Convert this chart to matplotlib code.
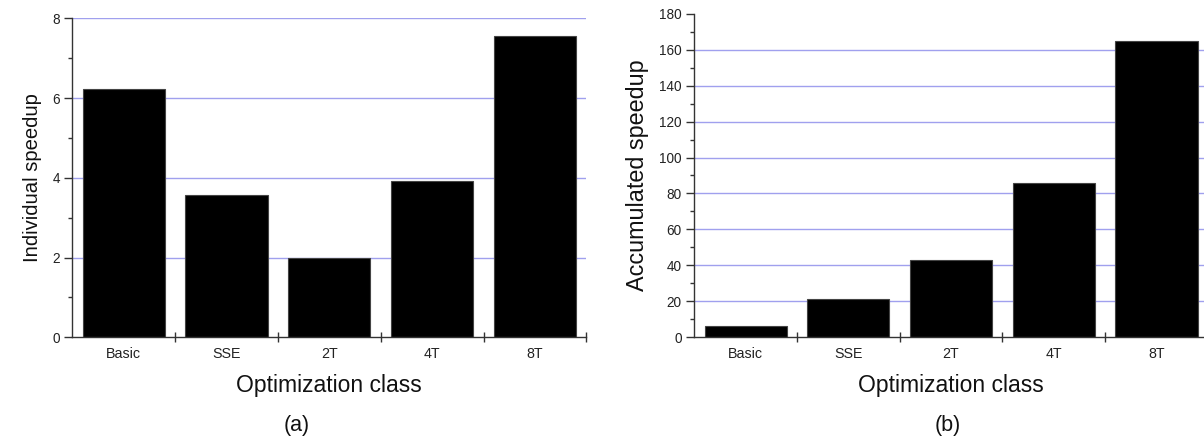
import matplotlib
matplotlib.use("Agg")
import matplotlib.pyplot as plt
import numpy as np
from matplotlib.ticker import FixedLocator, MultipleLocator

plt.rcParams["font.family"] = ["Liberation Sans", "DejaVu Sans"]

CATEGORIES = ["Basic", "SSE", "2T", "4T", "8T"]
INDIVIDUAL = [6.22, 3.56, 1.98, 3.93, 7.55]
ACCUMULATED = [6.2, 21.5, 43.0, 85.8, 164.6]

GRID_COLOR = "#a0a0ee"
AXIS_COLOR = "#333333"


def style_axes(ax, ymax, ymajor, yminor, ylabel, ylabel_size, grid_vals):
    x = np.arange(len(CATEGORIES))
    ax.set_xlim(-0.5, len(CATEGORIES) - 0.5)
    ax.set_ylim(0, ymax)
    for g in grid_vals:
        ax.axhline(g, color=GRID_COLOR, linewidth=1.0, zorder=0)

    ax.spines[["top", "right"]].set_visible(False)
    for s in ("left", "bottom"):
        ax.spines[s].set_color(AXIS_COLOR)
        ax.spines[s].set_linewidth(1.0)

    # category labels at bar centres, tick marks at bin boundaries
    ax.set_xticks(x)
    ax.set_xticklabels(CATEGORIES, fontsize=10.3, color="#222222")
    ax.tick_params(axis="x", which="major", length=0, pad=7)
    ax.xaxis.set_minor_locator(FixedLocator(np.arange(0.5, len(CATEGORIES), 1.0)))
    ax.tick_params(axis="x", which="minor", direction="inout", length=7,
                   width=1.0, color=AXIS_COLOR)

    ax.yaxis.set_major_locator(MultipleLocator(ymajor))
    ax.yaxis.set_minor_locator(MultipleLocator(yminor))
    ax.tick_params(axis="y", which="major", direction="out", length=6,
                   width=1.0, color=AXIS_COLOR, labelsize=9.8,
                   labelcolor="#222222", pad=3)
    ax.tick_params(axis="y", which="minor", direction="out", length=3,
                   width=1.0, color=AXIS_COLOR)

    ax.set_xlabel("Optimization class", fontsize=16.5, color="#111111",
                  labelpad=9)
    ax.set_ylabel(ylabel, fontsize=ylabel_size, color="#111111", labelpad=7)


fig = plt.figure(figsize=(12.04, 4.42), dpi=100)

ax1 = fig.add_axes([72.3 / 1204, 104.7 / 442, 514 / 1204, 319 / 442])
ax1.bar(np.arange(len(CATEGORIES)), INDIVIDUAL, width=0.8, color="black",
        edgecolor="#444444", linewidth=0.8, zorder=2)
style_axes(ax1, 8, 2, 1, "Individual speedup", 14.6, [2, 4, 6, 8])

ax2 = fig.add_axes([694.3 / 1204, 104.7 / 442, 513.5 / 1204, 323.6 / 442])
ax2.bar(np.arange(len(CATEGORIES)), ACCUMULATED, width=0.8, color="black",
        edgecolor="#444444", linewidth=0.8, zorder=2)
style_axes(ax2, 180, 20, 10, "Accumulated speedup", 16.8,
           [20, 40, 60, 80, 100, 120, 140, 160])

fig.text(297 / 1204, 1 - 425 / 442, "(a)", ha="center", va="center",
         fontsize=15.5, color="#111111")
fig.text(948 / 1204, 1 - 425 / 442, "(b)", ha="center", va="center",
         fontsize=15.5, color="#111111")

fig.savefig("out.png", dpi=100)
